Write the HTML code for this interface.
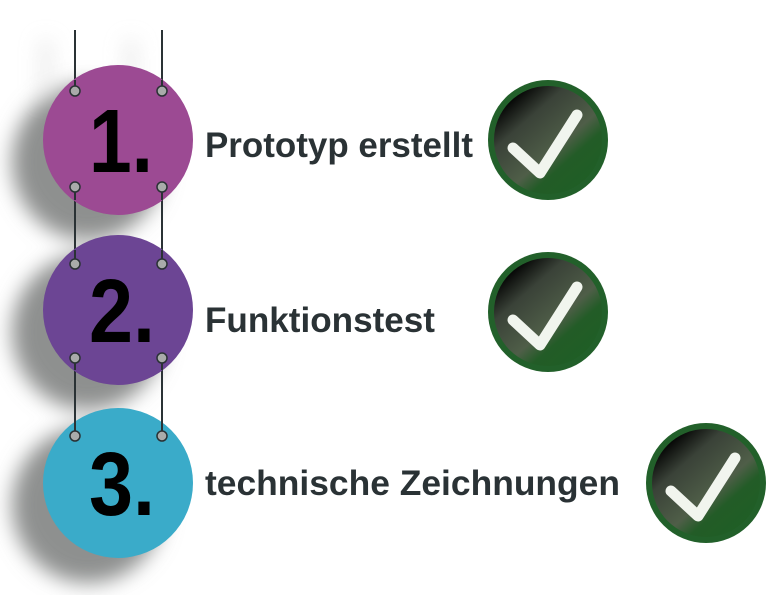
<!DOCTYPE html>
<html><head><meta charset="utf-8"><style>html,body{margin:0;padding:0;background:#fff}svg{display:block}</style></head>
<body>
<svg width="775" height="595" viewBox="0 0 775 595" xmlns="http://www.w3.org/2000/svg">
<defs>
<filter id="blur" x="-50%" y="-50%" width="200%" height="200%"><feGaussianBlur stdDeviation="10"/></filter>
<linearGradient id="ck" x1="0.15" y1="0.1" x2="0.85" y2="0.9">
<stop offset="0" stop-color="#000"/><stop offset="0.25" stop-color="#3a4238"/><stop offset="0.6" stop-color="#4f5e48"/><stop offset="0.75" stop-color="#235c27"/><stop offset="1" stop-color="#1f5e25"/>
</linearGradient>
<g id="check">
<circle r="60" fill="#22602a"/>
<circle r="54" fill="url(#ck)"/>
<path d="M-35,8 L-8,33 L29,-25" fill="none" stroke="#f1f5ee" stroke-width="11" stroke-linecap="round" stroke-linejoin="round"/>
</g>
</defs>
<g fill="#8e908f" filter="url(#blur)">
<ellipse cx="88" cy="162" rx="76" ry="78"/>
<ellipse cx="88" cy="332" rx="76" ry="78"/>
<ellipse cx="88" cy="505" rx="76" ry="78"/>
</g>
<g fill="#ddd" filter="url(#blur)" opacity="0.6">
<rect x="40" y="40" width="12" height="60"/><rect x="125" y="40" width="12" height="60"/>
</g>
<g stroke="#2a3235" stroke-width="2">
<line x1="75" y1="30" x2="75" y2="91"/><line x1="162" y1="30" x2="162" y2="91"/>
<line x1="75" y1="187" x2="75" y2="264"/><line x1="162" y1="187" x2="162" y2="264"/>
<line x1="75" y1="358" x2="75" y2="436"/><line x1="162" y1="358" x2="162" y2="436"/>
</g>
<circle cx="118" cy="140" r="75" fill="#9c4a93"/>
<circle cx="118" cy="310" r="75" fill="#6c4594"/>
<circle cx="118" cy="483" r="75" fill="#3aabc9"/>
<g stroke="#2a3235" stroke-width="2"><line x1="75" y1="187" x2="75" y2="200"/><line x1="162" y1="187" x2="162" y2="200"/><line x1="75" y1="358" x2="75" y2="370"/><line x1="162" y1="358" x2="162" y2="370"/><line x1="75" y1="80" x2="75" y2="91"/><line x1="162" y1="80" x2="162" y2="91"/><line x1="75" y1="250" x2="75" y2="264"/><line x1="162" y1="250" x2="162" y2="264"/><line x1="75" y1="420" x2="75" y2="436"/><line x1="162" y1="420" x2="162" y2="436"/></g>
<g fill="#a9abaa" stroke="#2a3235" stroke-width="1.5">
<circle cx="75" cy="91" r="5"/><circle cx="162" cy="91" r="5"/>
<circle cx="75" cy="187" r="5"/><circle cx="162" cy="187" r="5"/>
<circle cx="75" cy="264" r="5"/><circle cx="162" cy="264" r="5"/>
<circle cx="75" cy="358" r="5"/><circle cx="162" cy="358" r="5"/>
<circle cx="75" cy="436" r="5"/><circle cx="162" cy="436" r="5"/>
</g>
<g font-family="Liberation Sans, Arial, sans-serif" font-weight="bold" fill="#000" font-size="90">
<text x="89" y="172" textLength="64" lengthAdjust="spacingAndGlyphs">1.</text>
<text x="89" y="342" textLength="66" lengthAdjust="spacingAndGlyphs">2.</text>
<text x="89" y="515" textLength="66" lengthAdjust="spacingAndGlyphs">3.</text>
</g>
<g font-family="Liberation Sans, Arial, sans-serif" font-weight="bold" fill="#2a3235" font-size="35">
<text x="205" y="157" textLength="268" lengthAdjust="spacingAndGlyphs">Prototyp erstellt</text>
<text x="205" y="332" textLength="230" lengthAdjust="spacingAndGlyphs">Funktionstest</text>
<text x="205" y="495" textLength="415" lengthAdjust="spacingAndGlyphs">technische Zeichnungen</text>
</g>
<use href="#check" x="548" y="140"/>
<use href="#check" x="548" y="312"/>
<use href="#check" x="706" y="483"/>
</svg>
</body></html>
